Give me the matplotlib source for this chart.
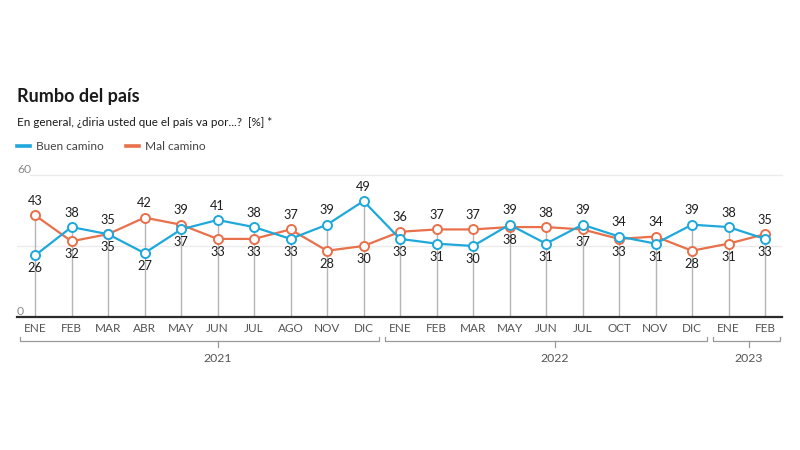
import matplotlib
matplotlib.use("Agg")
import matplotlib.pyplot as plt
from matplotlib.transforms import blended_transform_factory

plt.rcParams['font.family'] = ['Lato', 'DejaVu Sans']

months = ["ENE", "FEB", "MAR", "ABR", "MAY", "JUN", "JUL", "AGO", "NOV", "DIC",
          "ENE", "FEB", "MAR", "MAY", "JUN", "JUL", "OCT", "NOV", "DIC",
          "ENE", "FEB"]
buen = [26, 38, 35, 27, 37, 41, 38, 33, 39, 49,
        33, 31, 30, 39, 31, 39, 34, 31, 39,
        38, 33]
mal = [43, 32, 35, 42, 39, 33, 33, 37, 28, 30,
       36, 37, 37, 38, 38, 37, 33, 34, 28,
       31, 35]
years = ["2021", "2022", "2023"]
year_first = [0, 10, 19]
year_last = [9, 18, 20]
year_label_pos = [5, 14.25, 19.56]

BLUE = "#1FA8DB"
ORANGE = "#E8704A"
W, H = 800, 450

fig = plt.figure(figsize=(8, 4.5), dpi=100)
px = 36.5
left_px, right_px = 17, 782
x0_px = 35
xmin = (left_px - x0_px) / px
xmax = (right_px - x0_px) / px
ax = fig.add_axes([left_px / W, (H - 317) / H, (right_px - left_px) / W, 142 / H])
ax.set_xlim(xmin, xmax)
ax.set_ylim(0, 60)
for s in ax.spines.values():
    s.set_visible(False)
ax.set_yticks([])

x = list(range(len(months)))

# gridlines
ax.plot([(30 - x0_px) / px, xmax], [60, 60], color="#EBEBEB", lw=1, zorder=0, clip_on=False)
ax.axhline(30, color="#EBEBEB", lw=1, zorder=0)

# drop lines
tops = [max(b, m) for b, m in zip(buen, mal)]
ax.vlines(x, 0, tops, color="#B5B5B5", lw=1, zorder=1)

# baseline
ax.axhline(0, color="#2B2B2B", lw=1.6, zorder=5, clip_on=False)

ax.plot(x, mal, color=ORANGE, lw=1.6, marker="o", ms=6.5, mfc="white",
        mec=ORANGE, mew=1.4, zorder=3, clip_on=False)
ax.plot(x, buen, color=BLUE, lw=1.6, marker="o", ms=6.5, mfc="white",
        mec=BLUE, mew=1.4, zorder=4, clip_on=False)

for i in x:
    b, m = buen[i], mal[i]
    if b >= m:
        hi, lo = b, m
    else:
        hi, lo = m, b
    ax.annotate(str(hi), (i, hi), xytext=(0, 6), textcoords="offset points",
                ha="center", va="bottom", fontsize=9.2, color="#1E1E1E", zorder=6)
    ax.annotate(str(lo), (i, lo), xytext=(0, -5), textcoords="offset points",
                ha="center", va="top", fontsize=9.2, color="#1E1E1E", zorder=6)

ax.set_xticks(x)
ax.set_xticklabels(months, fontsize=8.5, color="#555555")
ax.tick_params(axis="x", length=0, pad=4)

# y labels
fig.text(17 / W, 1 - 173 / H, "60", fontsize=8.8, color="#8A8A8A", ha="left", va="baseline")
fig.text(17 / W, 1 - 315 / H, "0", fontsize=8.8, color="#8A8A8A", ha="left", va="baseline")

# year brackets
tr = blended_transform_factory(ax.transData, fig.transFigure)
yb = 1 - 341 / H
yt = 1 - 337 / H
yc = 1 - 347 / H
for name, f, l, c in zip(years, year_first, year_last, year_label_pos):
    a, b2 = f - 0.42, l + 0.42
    line = plt.Line2D([a, a, b2, b2], [yt, yb, yb, yt], transform=tr, color="#9A9A9A",
                      lw=0.9, clip_on=False)
    fig.add_artist(line)
    fig.add_artist(plt.Line2D([c, c], [yb, yc], transform=tr, color="#9A9A9A", lw=0.9))
    fig.text(c, 1 - 358 / H, name, transform=tr, ha="center", va="center",
             fontsize=8.8, color="#555555")

# titles
fig.text(17 / W, 1 - 102 / H, "Rumbo del país", fontsize=13, fontweight="bold",
         color="#1A1A1A", ha="left", va="baseline")
fig.text(17 / W, 1 - 126 / H, "En general, ¿diria usted que el país va por...?  [%] *",
         fontsize=8.4, color="#1A1A1A", ha="left", va="baseline")

# legend
ly = 1 - 146 / H
fig.add_artist(plt.Line2D([17 / W, 30 / W], [ly, ly], color=BLUE, lw=2.6))
fig.text(36 / W, 1 - 149.5 / H, "Buen camino", fontsize=8.6, color="#444444",
         ha="left", va="baseline")
fig.add_artist(plt.Line2D([126 / W, 139 / W], [ly, ly], color=ORANGE, lw=2.6))
fig.text(145 / W, 1 - 149.5 / H, "Mal camino", fontsize=8.6, color="#444444",
         ha="left", va="baseline")

fig.savefig("out.png", dpi=100, facecolor="white")
